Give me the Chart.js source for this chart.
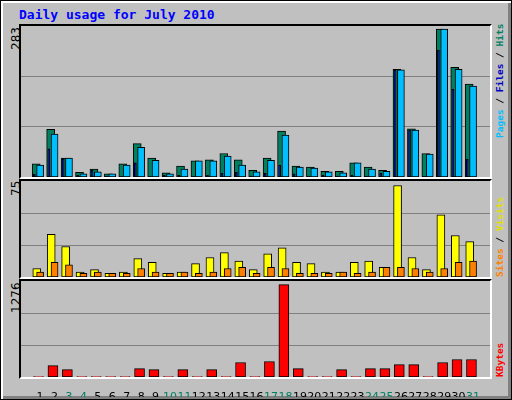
<!DOCTYPE html>
<html><head><meta charset="utf-8">
<script src="https://cdn.jsdelivr.net/npm/chart.js"></script>
<style>
body{margin:0;width:512px;height:400px;overflow:hidden;background:#c0c0c0;font-family:"DejaVu Sans Mono",monospace}
#frame{position:absolute;left:0;top:0;width:510px;height:398px;border:1px solid #000;box-shadow:inset 2px 2px 0 #fff, inset -3px -3px 0 #808080}
.p{position:absolute;box-sizing:border-box;border:2px solid;border-color:#000 #fff #fff #000}
canvas{position:absolute}
.t{position:absolute;white-space:nowrap;font-size:12px}
.r{position:absolute;transform-origin:0 0;transform:rotate(-90deg);white-space:nowrap;font-size:9.5px;font-weight:bold}
.n{position:absolute;transform-origin:0 0;transform:rotate(-90deg);white-space:nowrap;font-size:12px;font-family:'DejaVu Sans'}
</style></head><body>
<div id="frame"></div>
<div class="t" style="left:19px;top:7px;color:#0000ff;font-weight:bold;font-size:13px">Daily usage for July 2010</div>
<div class="p" style="left:19px;top:24px;width:473px;height:155px"></div>
<div class="p" style="left:19px;top:179px;width:473px;height:100px"></div>
<div class="p" style="left:19px;top:279px;width:473px;height:100px"></div>
<div class="n" style="left:9px;top:50px">283</div>
<div class="n" style="left:9px;top:196px">75</div>
<div class="n" style="left:9px;top:313px">1276</div>
<div class="r" style="left:494px;top:138px"><span style="color:#00bfff">Pages</span> / <span style="color:#0000c0">Files</span> / <span style="color:#008060">Hits</span></div>
<div class="r" style="left:494px;top:277px"><span style="color:#ff8000">Sites</span> / <span style="color:#e0e000">Visits</span></div>
<div class="r" style="left:494px;top:377px;color:#ff0000">KBytes</div>
<canvas id="c1" style="left:21px;top:26px" width="469" height="151"></canvas>
<canvas id="c2" style="left:21px;top:181px" width="469" height="96"></canvas>
<canvas id="c3" style="left:21px;top:281px" width="469" height="116"></canvas>
<script>
const days=[1,2,3,4,5,6,7,8,9,10,11,12,13,14,15,16,17,18,19,20,21,22,23,24,25,26,27,28,29,30,31];
const weekend=[3,4,10,11,17,18,24,25,31];
const hits=[25,91,36,9,15,6,25,64,36,8,21,31,33,45,33,13,36,88,21,19,11,11,27,19,13,206,92,45,283,210,178];
const files=[23,82,36,6,10,6,23,57,32,6,15,31,31,40,23,10,32,80,19,17,10,8,27,15,11,205,90,44,283,206,174];
const pages=[5,54,35,3,13,2,1,27,1,3,3,1,3,7,9,2,7,23,6,2,3,2,3,2,7,205,90,1,243,168,34];
const visits=[7,35,25,4,6,3,4,15,12,3,4,11,16,20,13,6,19,24,12,11,4,4,12,13,8,75,16,6,51,34,29];
const sites=[4,12,10,3,4,3,3,7,4,3,4,3,4,7,8,3,8,7,3,3,3,4,3,4,8,8,7,4,7,12,13];
const kbytes=[5,158,102,5,5,5,5,116,102,5,102,5,102,5,200,5,214,1276,116,5,5,102,5,116,116,172,172,5,200,242,242];
Chart.defaults.animation=false;Chart.defaults.responsive=false;
function pts(arr,s){return arr.map((v,i)=>({x:days[i]+s,y:v}));}
function ds(arr,s,col,w){return {data:pts(arr,s),backgroundColor:col,borderColor:'#000',borderWidth:1,barThickness:w,grouped:false,borderSkipped:false};}
function mk(id,sets,max,showX){
 new Chart(document.getElementById(id),{type:'bar',data:{datasets:sets},
 options:{layout:{padding:0},plugins:{legend:{display:false},tooltip:{enabled:false}},
 scales:{x:{type:'linear',min:0.2,max:31.65,display:showX,grid:{display:false},border:{display:false},
   afterFit:s=>{if(showX)s.height=20;},
   afterBuildTicks:s=>{s.ticks=days.map(d=>({value:d}));},
   ticks:{autoSkip:false,maxRotation:0,padding:6,font:{family:'DejaVu Sans',size:11},
     color:c=>weekend.includes(c.tick.value)?'#008060':'#000',callback:v=>v}},
  y:{min:0,max:max,afterFit:s=>{s.width=0;},ticks:{display:false,count:4},border:{display:false},
   grid:{color:'#808080',lineWidth:c=>(c.index===0||c.index===3)?0:1,drawTicks:false}}}}});
}
mk('c1',[ds(pages,-0.4,'#0000ff',2),ds(files,0,'#00bfff',7),ds(hits,-0.27,'#008060',8)],289,false);
mk('c2',[ds(sites,0,'#ff8000',7),ds(visits,-0.23,'#ffff00',8)],78.7,false);
mk('c3',[ds(kbytes,-0.11,'#ff0000',10)],1326,true);
</script></body></html>
